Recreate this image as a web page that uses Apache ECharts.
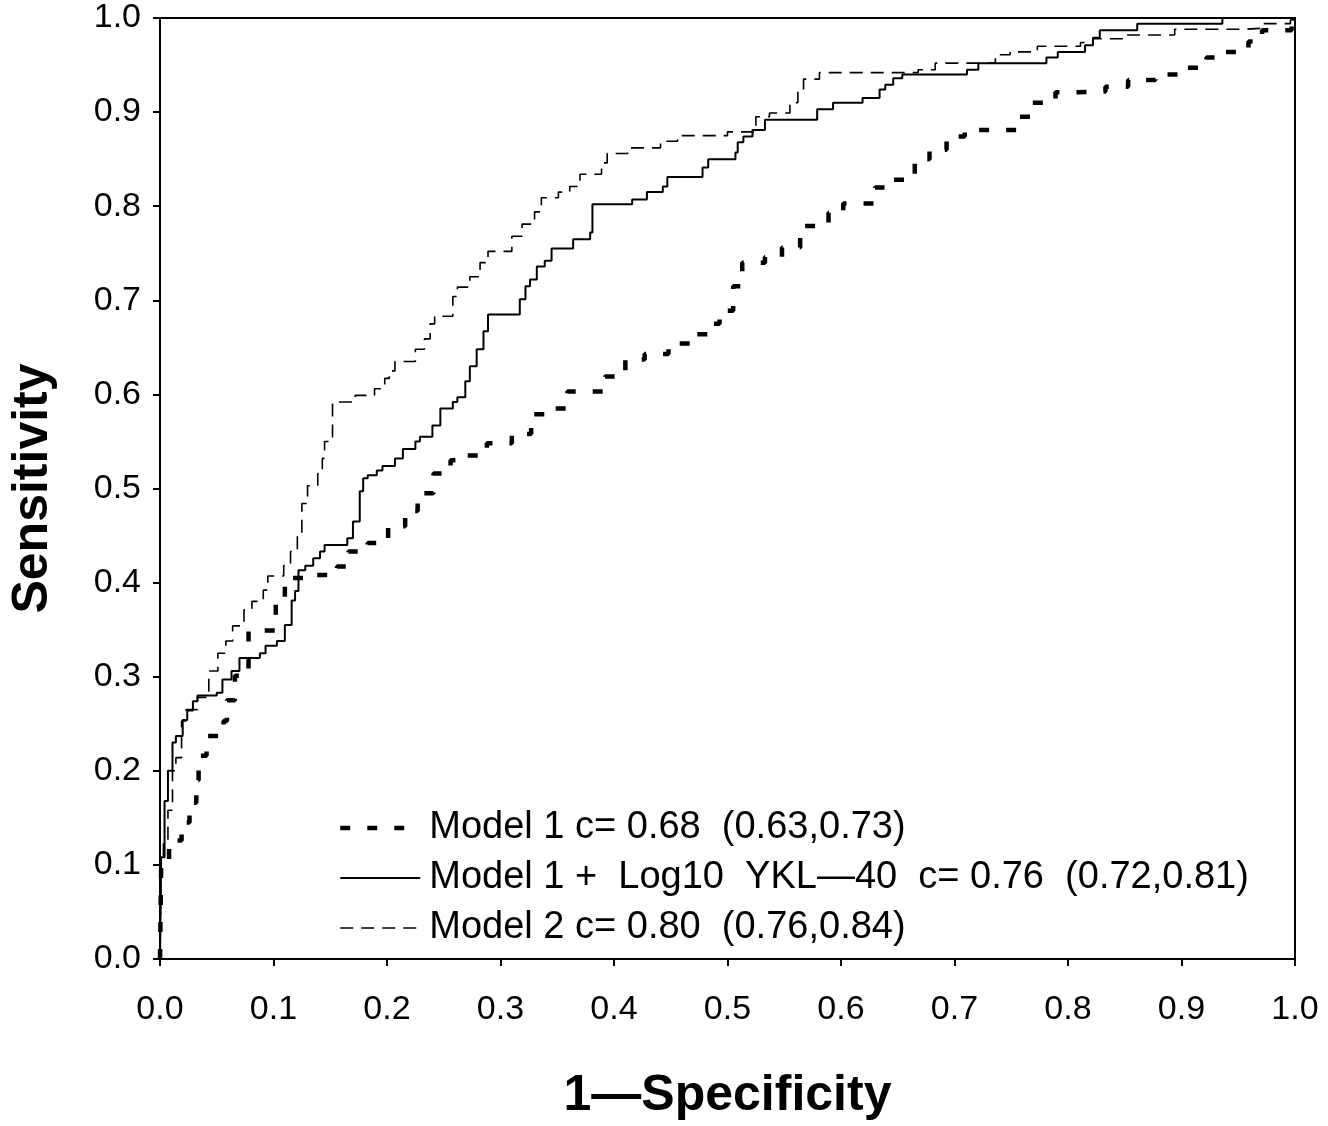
<!DOCTYPE html>
<html>
<head>
<meta charset="utf-8">
<script src="https://cdn.jsdelivr.net/npm/echarts@6/dist/echarts.min.js"></script>
<style>
  html, body { margin: 0; padding: 0; background: #fff; }
  #chart { width: 1328px; height: 1126px; }
</style>
</head>
<body>
<div id="chart"></div>
<script>
// ROC curves, points are the corners where each step rises (x = 1-specificity, y = sensitivity)
const model1X = [0, 0.001, 0.008, 0.019, 0.026, 0.032, 0.034, 0.041, 0.056, 0.059, 0.066, 0.078, 0.102, 0.110, 0.130, 0.156, 0.166, 0.183, 0.201, 0.216, 0.227, 0.241, 0.256, 0.271, 0.288, 0.310, 0.327, 0.345, 0.359, 0.392, 0.410, 0.427, 0.448, 0.471, 0.485, 0.493, 0.505, 0.513, 0.533, 0.548, 0.564, 0.589, 0.602, 0.630, 0.646, 0.665, 0.678, 0.693, 0.709, 0.755, 0.768, 0.789, 0.809, 0.833, 0.853, 0.877, 0.897, 0.922, 0.934, 0.959, 0.971, 0.997, 1.0]
const model1Y = [0, 0.097, 0.126, 0.145, 0.166, 0.190, 0.216, 0.237, 0.253, 0.275, 0.301, 0.349, 0.383, 0.405, 0.408, 0.417, 0.433, 0.442, 0.460, 0.476, 0.495, 0.516, 0.530, 0.535, 0.548, 0.558, 0.579, 0.585, 0.603, 0.619, 0.637, 0.643, 0.654, 0.664, 0.675, 0.689, 0.715, 0.740, 0.746, 0.756, 0.779, 0.793, 0.803, 0.820, 0.828, 0.850, 0.860, 0.874, 0.881, 0.895, 0.910, 0.921, 0.922, 0.927, 0.934, 0.940, 0.947, 0.958, 0.964, 0.975, 0.987, 0.998, 1.0]

const yklX = [0, 0.001, 0.004, 0.007, 0.011, 0.014, 0.020, 0.024, 0.029, 0.033, 0.050, 0.055, 0.063, 0.070, 0.088, 0.093, 0.103, 0.110, 0.116, 0.119, 0.122, 0.128, 0.135, 0.141, 0.145, 0.165, 0.170, 0.176, 0.179, 0.183, 0.191, 0.196, 0.207, 0.214, 0.225, 0.229, 0.240, 0.247, 0.258, 0.262, 0.269, 0.273, 0.279, 0.285, 0.289, 0.317, 0.322, 0.326, 0.332, 0.339, 0.345, 0.364, 0.379, 0.381, 0.416, 0.429, 0.443, 0.447, 0.478, 0.483, 0.507, 0.509, 0.514, 0.522, 0.533, 0.579, 0.593, 0.619, 0.634, 0.639, 0.646, 0.654, 0.711, 0.721, 0.781, 0.791, 0.815, 0.822, 0.828, 0.861, 0.936, 1.0]
const yklY = [0, 0.108, 0.168, 0.200, 0.230, 0.237, 0.254, 0.264, 0.274, 0.280, 0.283, 0.297, 0.306, 0.320, 0.325, 0.333, 0.338, 0.355, 0.381, 0.391, 0.413, 0.418, 0.426, 0.433, 0.440, 0.447, 0.465, 0.497, 0.511, 0.514, 0.519, 0.524, 0.532, 0.542, 0.550, 0.555, 0.567, 0.585, 0.592, 0.597, 0.614, 0.630, 0.648, 0.667, 0.685, 0.701, 0.715, 0.722, 0.736, 0.742, 0.755, 0.765, 0.772, 0.802, 0.807, 0.815, 0.821, 0.831, 0.841, 0.850, 0.857, 0.868, 0.874, 0.881, 0.892, 0.903, 0.910, 0.915, 0.924, 0.929, 0.936, 0.940, 0.945, 0.952, 0.958, 0.964, 0.971, 0.979, 0.987, 0.994, 1.0, 1.0]

const model2X = [0, 0.001, 0.003, 0.007, 0.011, 0.014, 0.019, 0.023, 0.033, 0.043, 0.051, 0.058, 0.064, 0.074, 0.081, 0.091, 0.095, 0.109, 0.115, 0.121, 0.125, 0.130, 0.139, 0.143, 0.145, 0.152, 0.172, 0.189, 0.198, 0.202, 0.207, 0.225, 0.233, 0.238, 0.242, 0.258, 0.262, 0.273, 0.282, 0.289, 0.310, 0.319, 0.330, 0.336, 0.351, 0.361, 0.370, 0.389, 0.394, 0.412, 0.441, 0.456, 0.500, 0.525, 0.537, 0.555, 0.562, 0.567, 0.581, 0.668, 0.683, 0.736, 0.749, 0.773, 0.811, 0.822, 0.850, 0.894, 0.956, 0.969, 0.996, 1.0]
const model2Y = [0, 0.108, 0.124, 0.158, 0.200, 0.214, 0.253, 0.265, 0.278, 0.306, 0.325, 0.338, 0.354, 0.371, 0.380, 0.392, 0.407, 0.418, 0.433, 0.450, 0.484, 0.503, 0.516, 0.532, 0.550, 0.592, 0.599, 0.606, 0.617, 0.625, 0.635, 0.648, 0.659, 0.675, 0.683, 0.704, 0.714, 0.725, 0.740, 0.752, 0.768, 0.781, 0.794, 0.809, 0.815, 0.821, 0.834, 0.846, 0.856, 0.862, 0.869, 0.875, 0.879, 0.895, 0.899, 0.910, 0.924, 0.935, 0.942, 0.945, 0.952, 0.961, 0.964, 0.970, 0.974, 0.978, 0.982, 0.988, 0.989, 0.994, 0.998, 1.0]

const seriesNames = [
  'Model 1 c= 0.68  (0.63,0.73)',
  'Model 1 +  Log10  YKL—40  c= 0.76  (0.72,0.81)',
  'Model 2 c= 0.80  (0.76,0.84)'
]

const font = '"Liberation Sans", Arial, Helvetica, sans-serif'

const pairs = (xs, ys) => xs.map((x, i) => [x, ys[i]])

const lineStyles = [
  { color: '#000', width: 4.5, type: [10, 17] },
  { color: '#000', width: 2, type: 'solid' },
  { color: '#000', width: 1.6, type: [13, 8] }
]

const chart = echarts.init(document.getElementById('chart'), null, { renderer: 'canvas' })

const axisCommon = {
  type: 'value',
  min: 0,
  max: 1,
  interval: 0.1,
  axisLine: { show: true, onZero: false, lineStyle: { color: '#000', width: 2 } },
  axisTick: { show: true, inside: false, length: 7, lineStyle: { color: '#000', width: 2 } },
  splitLine: { show: false },
  axisLabel: {
    color: '#000',
    fontFamily: font,
    fontSize: 34,
    formatter: v => v.toFixed(1)
  },
  nameTextStyle: {
    color: '#000',
    fontFamily: font,
    fontWeight: 'bold',
    fontSize: 50
  }
}

const option = {
  animation: false,
  backgroundColor: '#fff',
  grid: {
    left: 160,
    right: 33,
    top: 18,
    bottom: 165,
    show: true,
    borderColor: '#000',
    borderWidth: 2,
    containLabel: false
  },
  xAxis: Object.assign({}, axisCommon, {
    name: '1—Specificity',
    nameLocation: 'middle',
    nameGap: 112,
    axisLabel: Object.assign({}, axisCommon.axisLabel, { margin: 34 })
  }),
  yAxis: Object.assign({}, axisCommon, {
    name: 'Sensitivity',
    nameLocation: 'middle',
    nameGap: 102,
    nameRotate: 90,
    axisLabel: Object.assign({}, axisCommon.axisLabel, { margin: 19 })
  }),
  legend: {
    orient: 'vertical',
    left: 333,
    top: 804,
    itemWidth: 80,
    itemHeight: 14,
    itemGap: 12,
    itemStyle: { color: 'rgba(0,0,0,0)', borderColor: 'rgba(0,0,0,0)', borderWidth: 0 },
    data: seriesNames.map((name, i) => ({ name: name, lineStyle: lineStyles[i] })),
    textStyle: {
      color: '#000',
      fontFamily: font,
      fontSize: 38,
      padding: [0, 0, 0, 4]
    }
  },
  series: seriesNames.map((name, i) => ({
    name: name,
    type: 'line',
    step: 'end',
    symbol: 'none',
    data: [pairs(model1X, model1Y), pairs(yklX, yklY), pairs(model2X, model2Y)][i],
    lineStyle: lineStyles[i],
    itemStyle: { color: 'rgba(0,0,0,0)' },
    z: i === 0 ? 3 : 2
  }))
}

chart.setOption(option)
</script>
</body>
</html>
